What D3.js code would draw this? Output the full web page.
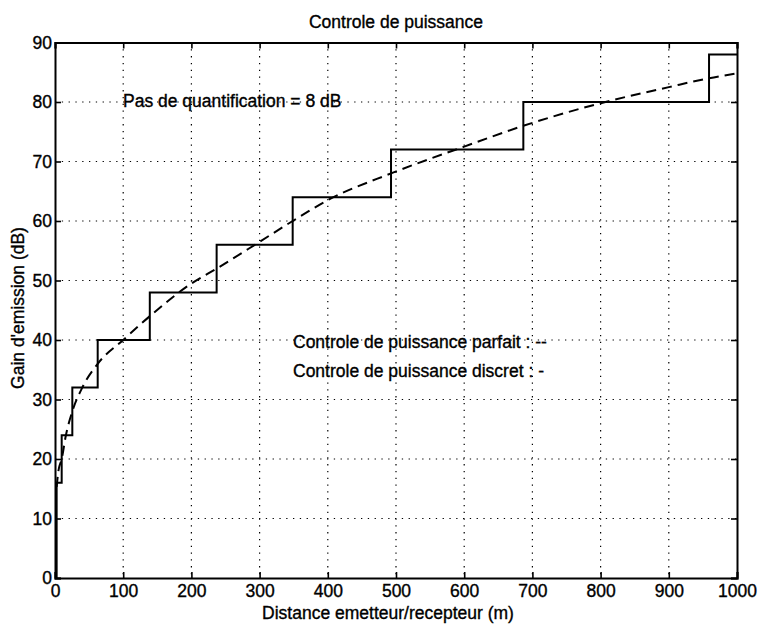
<!DOCTYPE html>
<html><head><meta charset="utf-8">
<script src="https://cdn.jsdelivr.net/npm/d3@7"></script>
<style>
body{margin:0;background:#fff;}
text{font-family:"Liberation Sans",Arial,Helvetica,sans-serif;fill:#000;stroke:#000;stroke-width:0.35px;}
</style></head>
<body><svg id="c" width="760" height="626"></svg>
<script>
// Discrete power control: step start distances (m) and gain levels (dB)
const stepDistances = [0, 2.4, 9.8, 25.4, 62.6, 139, 237, 348.5, 492.7, 686.7, 959, 1000];
const stepLevels    = [0, 16, 24, 32, 40, 48, 56, 64, 72, 80, 88, 88];
// Perfect power control curve
const perfectDistances = [2.4, 5, 9.8, 16, 25.4, 40, 62.6, 100, 139, 200, 237, 300, 348.5, 400, 492.7, 600, 686.7, 800, 900, 959, 1000];
const perfectGains     = [15.3, 18, 20, 24, 28, 32, 36, 40, 44, 49.5, 52, 56.5, 60, 63.5, 68, 72.5, 76, 79.8, 82.5, 84, 84.8];
const xTicks = [0,100,200,300,400,500,600,700,800,900,1000];
const yTicks = [0,10,20,30,40,50,60,70,80,90];

const svg = d3.select("#c");
const L=55, R=737, T=42.5, B=578;
const x = d3.scaleLinear().domain([0,1000]).range([L,R]);
const y = d3.scaleLinear().domain([0,90]).range([B,T]);

// grid
const g = svg.append("g");
g.selectAll(".vg").data(xTicks.slice(1,-1)).enter().append("line")
 .attr("x1",d=>x(d)).attr("x2",d=>x(d)).attr("y1",T).attr("y2",B)
 .attr("stroke","#000").attr("stroke-width",1.2).attr("stroke-dasharray","1.3,5.5");
g.selectAll(".hg").data(yTicks.slice(1,-1)).enter().append("line")
 .attr("y1",d=>y(d)).attr("y2",d=>y(d)).attr("x1",L).attr("x2",R)
 .attr("stroke","#000").attr("stroke-width",1.2).attr("stroke-dasharray","1.3,5.5");

// axes
const fs = "17.5px";
const xa = svg.append("g").attr("transform",`translate(0,${B})`)
 .call(d3.axisBottom(x).tickValues(xTicks).tickSize(-6).tickPadding(8).tickFormat(d3.format("d")));
const xt = svg.append("g").attr("transform",`translate(0,${T})`)
 .call(d3.axisTop(x).tickValues(xTicks).tickSize(-6).tickFormat(""));
const ya = svg.append("g").attr("transform",`translate(${L},0)`)
 .call(d3.axisLeft(y).tickValues(yTicks).tickSize(-6).tickPadding(3).tickFormat(d3.format("d")));
const yr = svg.append("g").attr("transform",`translate(${R},0)`)
 .call(d3.axisRight(y).tickValues(yTicks).tickSize(-6).tickFormat(""));
[xa,xt,ya,yr].forEach(a=>{
  a.selectAll("path").attr("stroke","#000").attr("stroke-width",2);
  a.selectAll("line").attr("stroke","#000").attr("stroke-width",1.6);
  a.selectAll("text").style("font-size",fs).style("font-family","'Liberation Sans',Arial,sans-serif").attr("fill","#000");
});
xa.selectAll("text").attr("dy","0.6em");

// discrete step line
const stepData = stepDistances.map((d,i)=>[d,stepLevels[i]]);
svg.append("path").datum(stepData)
 .attr("d", d3.line().x(d=>x(d[0])).y(d=>y(d[1])).curve(d3.curveStepAfter))
 .attr("fill","none").attr("stroke","#000").attr("stroke-width",2);

// perfect curve
const perfData = perfectDistances.map((d,i)=>[d,perfectGains[i]]);
svg.append("path").datum(perfData)
 .attr("d", d3.line().x(d=>x(d[0])).y(d=>y(d[1])).curve(d3.curveMonotoneX))
 .attr("fill","none").attr("stroke","#000").attr("stroke-width",2).attr("stroke-dasharray","10,6");

// texts
svg.append("text").attr("x",396).attr("y",28).attr("text-anchor","middle").style("font-size","17.5px").text("Controle de puissance");
svg.append("text").attr("x",388).attr("y",619).attr("text-anchor","middle").style("font-size","17.5px").text("Distance emetteur/recepteur (m)");
svg.append("text").attr("transform","translate(24,308) rotate(-90)").attr("text-anchor","middle").style("font-size","17.5px").text("Gain d'emission (dB)");
svg.append("text").attr("x",123).attr("y",107).style("font-size","17.5px").text("Pas de quantification = 8 dB");
svg.append("text").attr("x",293).attr("y",348).style("font-size","17.5px").text("Controle de puissance parfait : --");
svg.append("text").attr("x",293).attr("y",377).style("font-size","17.5px").text("Controle de puissance discret : -");
</script></body></html>
